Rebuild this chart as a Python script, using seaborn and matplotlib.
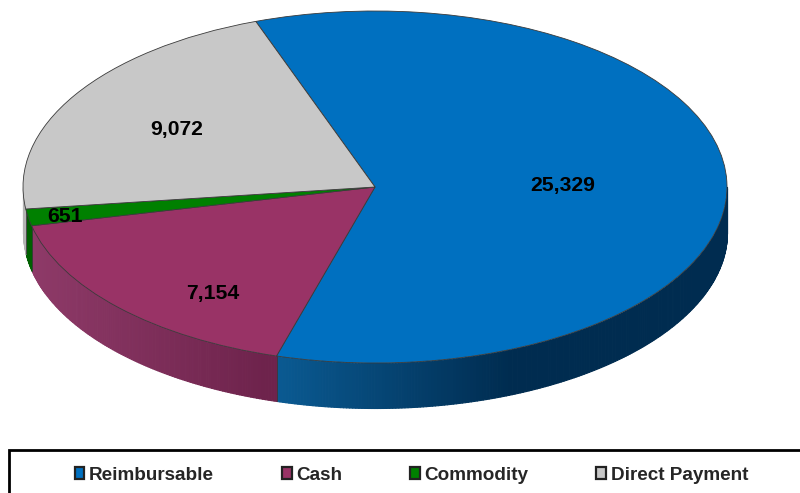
import numpy as np
import matplotlib
matplotlib.use("Agg")
import matplotlib.pyplot as plt
from matplotlib.colors import to_rgb
from matplotlib.patches import Rectangle
import seaborn as sns

sns.set_style("white")
plt.rcParams['font.family'] = ['Liberation Sans', 'DejaVu Sans']

categories = ['Reimbursable', 'Cash', 'Commodity', 'Direct Payment']
values = [25329, 7154, 651, 9072]
value_labels = ['25,329', '7,154', '651', '9,072']
top_colors = ['#0070C0', '#993366', '#008000', '#C8C8C8']
# side of the disc, lighter end then darker end (left to right)
side_light = ['#0A5A92', '#8E3A68', '#006000', '#B4B4B4']
side_dark = ['#002C50', '#6E234C', '#005000', '#B4B4B4']

W, H = 800, 493
cx, cy, rx, ry = 375, 187, 352, 176
depth = 45
start = 109.8  # math angle where the first slice begins
shade_span = 0.66  # shading reaches the dark colour over this width (pie units)

fig = plt.figure(figsize=(W / 100, H / 100), dpi=100)
ax = fig.add_axes([0, 0, 1, 1])

# pie in unit coordinates, axes limits squash it into an ellipse
wedges, _ = ax.pie(values, colors=top_colors, startangle=start, counterclock=False,
                   radius=1, frame=True,
                   wedgeprops=dict(edgecolor='#3a3a3a', linewidth=0.6, zorder=3))
ax.set_aspect('auto')
ax.set_xlim((0 - cx) / rx, (W - cx) / rx)
ax.set_ylim((cy - H) / ry, (cy - 0) / ry)
ax.axis('off')

# extruded edge, only the part of each slice facing the viewer
d = depth / ry
for w, light, dark in zip(wedges, side_light, side_dark):
    a1, a2 = w.theta1 % 360, w.theta2 % 360
    if a2 < a1:
        a2 += 360
    lo, hi = max(a1, 180), min(a2, 360)
    if hi <= lo:
        continue
    edges = np.linspace(lo, hi, max(int((hi - lo) * 2), 2) + 1)
    x_lo = np.cos(np.radians(lo))
    for t0, t1 in zip(edges[:-1], edges[1:]):
        xs = np.cos(np.radians([t0, t1]))
        ys = np.sin(np.radians([t0, t1]))
        f = np.clip((xs[0] - x_lo) / shade_span, 0, 1)
        col = (1 - f) * np.array(to_rgb(light)) + f * np.array(to_rgb(dark))
        # no antialiasing here or the joins show as stripes
        ax.fill_between(xs, ys, ys - d, color=col, lw=0.8, antialiased=False, zorder=2)
    # thin line between neighbouring slices on the side
    if lo > 180:
        ye = np.sin(np.radians(lo))
        ax.plot([x_lo, x_lo], [ye, ye - d], color='#3a3a3a', lw=0.6, zorder=2.5)

# value labels, pixel positions
label_px = [(563, 186), (213, 293), (65, 217), (177, 130)]
for txt, (px, py) in zip(value_labels, label_px):
    fig.text(px / W, 1 - py / H, txt, ha='center', va='center',
             fontsize=15.2, fontweight='bold', color='black')

# legend frame runs off the right and bottom of the image
fig.add_artist(Rectangle((9 / W, -0.05), 1.05, 1 - 449.5 / H + 0.05, transform=fig.transFigure,
                         facecolor='white', edgecolor='black', linewidth=2))

handles = [Rectangle((0, 0), 1, 1, facecolor=c, edgecolor='#222222', linewidth=1.6) for c in top_colors]
leg = fig.legend(handles, categories, ncol=4, loc='center', bbox_to_anchor=(411.5 / W, 1 - 475 / H),
                 frameon=False, fontsize=13.6, handlelength=0.5, handleheight=0.55,
                 handletextpad=0.25, columnspacing=3.6)
for t in leg.get_texts():
    t.set_fontweight('bold')

fig.savefig('out.png', dpi=100)
